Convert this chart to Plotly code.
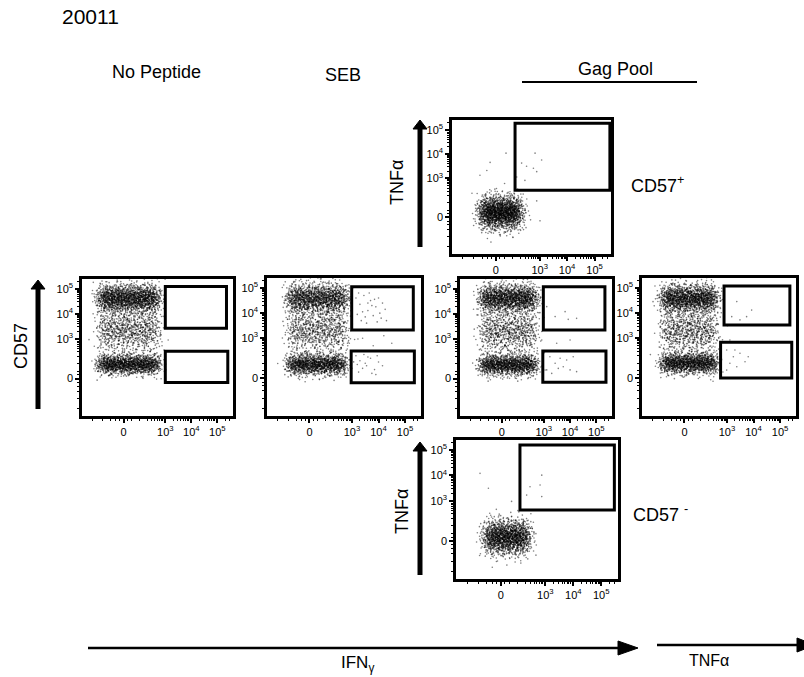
import numpy as np
import plotly.graph_objects as go

FIG_W, FIG_H = 804, 677
FONT = "Liberation Sans, Arial, sans-serif"
TICK_FONT = "Liberation Sans Narrow, Arial Narrow, Liberation Sans, Arial, sans-serif"

# labelled positions on the biexponential (logicle-style) display scale
MAJOR_TICKS = [1.4, 3.0, 4.0, 5.0]
MAJOR_LABELS = ["0", "10<sup>3</sup>", "10<sup>4</sup>", "10<sup>5</sup>"]
X_RANGE = [-0.2, 5.6]
Y_RANGE = [-0.1, 5.4]

COLUMN_TITLES = ["No Peptide", "SEB", "Gag Pool"]

# cell populations per plot: (x_lo, x_hi, y_centre, y_spread, events)
no_peptide_pops = [(0.5, 2.7, 4.62, 0.28, 1800), (0.5, 2.7, 3.35, 0.45, 900), (0.5, 2.7, 1.97, 0.2, 1500)]
seb_pops = [(0.65, 2.75, 4.58, 0.3, 1500), (0.65, 2.75, 3.3, 0.45, 800), (0.65, 2.7, 1.95, 0.21, 1400)]
gag_ifng_pops = [(0.65, 2.65, 4.62, 0.28, 1600), (0.65, 2.65, 3.3, 0.45, 800), (0.65, 2.65, 1.95, 0.21, 1400)]
gag_tnfa_pops = [(0.6, 2.55, 4.58, 0.28, 1600), (0.6, 2.55, 3.3, 0.45, 800), (0.6, 2.55, 2.0, 0.21, 1400)]
cd57_pos_pops = [(0.9, 2.25, 1.6, 0.34, 1900)]
cd57_neg_pops = [(0.9, 2.35, 1.55, 0.34, 1700)]

# sparse events outside the main clouds
no_peptide_rare_x = [3.11, 2.92, 2.95]
no_peptide_rare_y = [2.95, 3.9, 2.55]
seb_rare_x = [3.15, 3.3, 3.45, 3.6, 3.7, 3.8, 3.9, 4.0, 4.1, 4.25, 3.2, 3.35, 3.55, 3.65, 3.75, 3.95,
              4.15, 3.4, 3.85, 3.25, 3.5, 4.05, 3.6, 4.3,
              3.15, 3.3, 3.45, 3.55, 3.7, 3.85, 4.0, 3.25, 3.4, 3.6, 3.75, 3.95, 4.15, 3.5, 3.2, 3.9,
              2.9, 3.1, 3.4, 3.8, 4.2, 4.5, 2.95, 2.85, 2.9, 2.95, 3.0, 2.9]
seb_rare_y = [4.6, 4.35, 4.7, 4.1, 4.5, 3.9, 4.25, 4.6, 3.8, 4.15, 3.95, 3.7, 3.6, 4.8, 4.3, 3.65,
              4.4, 4.05, 4.55, 4.8, 3.85, 4.0, 4.4, 3.7,
              2.3, 2.1, 2.35, 1.9, 2.2, 1.75, 2.05, 1.65, 1.8, 2.25, 1.6, 2.3, 1.9, 2.0, 1.95, 1.55,
              2.8, 2.95, 3.0, 2.7, 3.1, 2.8, 3.3, 4.0, 4.6, 2.1, 1.8, 5.0]
gag_ifng_rare_x = [3.43, 3.81, 4.25, 3.93, 3.11, 2.92, 3.49, 4.0, 2.73, 3.23, 3.43, 3.62, 3.74, 3.87,
                   4.0, 3.11, 3.30, 4.12, 4.25, 3.55]
gag_ifng_rare_y = [3.89, 4.09, 3.82, 3.78, 4.29, 2.95, 2.82, 2.95, 2.42, 2.28, 2.02, 2.22, 1.88, 2.15,
                   1.75, 1.75, 1.61, 2.28, 1.68, 1.81]
gag_tnfa_rare_x = [3.37, 3.18, 3.74, 3.93, 3.49, 2.99, 3.24, 3.11, 3.49, 3.68, 3.37, 2.99, 3.80, 3.30,
                   3.11, 2.74]
gag_tnfa_rare_y = [4.46, 3.86, 3.86, 4.12, 3.73, 2.53, 2.26, 2.0, 2.40, 2.06, 1.86, 1.73, 2.26, 2.53,
                   2.93, 3.06]
cd57_pos_rare_x = [1.77, 1.19, 2.34, 2.52, 2.83, 3.07, 2.89, 2.77, 0.82, 1.07, 2.16, 2.46, 3.01, 2.89]
cd57_pos_rare_y = [4.04, 3.66, 3.63, 3.50, 4.04, 3.76, 3.28, 3.42, 3.13, 3.33, 3.06, 2.92, 1.26, 2.08]
cd57_neg_rare_x = [2.33, 2.45, 2.81, 2.87, 2.87, 1.79, 0.66, 0.96]
cd57_neg_rare_y = [3.22, 3.55, 3.62, 4.01, 3.16, 2.97, 4.08, 3.49]

# gates: (x0, x1, y0, y1) in display units
no_peptide_gates = [(3.0, 5.35, 3.42, 5.1), (3.0, 5.4, 1.24, 2.5)]
seb_gates = [(2.99, 5.31, 3.33, 5.05), (2.97, 5.35, 1.23, 2.49)]
gag_ifng_gates = [(2.98, 5.33, 3.35, 5.09), (2.96, 5.37, 1.25, 2.51)]
gag_tnfa_gates = [(2.89, 5.37, 3.53, 5.08), (2.76, 5.44, 1.41, 2.84)]
cd57_pos_gates = [(2.10, 5.56, 2.52, 5.27)]
cd57_neg_gates = [(2.09, 5.47, 2.63, 5.20)]


def spread(n, start, base):
    """Van der Corput sequence in the given base (deterministic, evenly filling)."""
    idx = np.arange(start, start + n)
    out = np.zeros(n)
    f = 1.0
    while idx.any():
        f /= base
        out += f * (idx % base)
        idx //= base
    return out


def population_events(pops, start):
    xs, ys = [], []
    for x_lo, x_hi, y_c, y_sd, n in pops:
        u = spread(n, start, 2)
        a = spread(n, start, 3)
        b = spread(n, start, 5)
        r = np.sqrt(-2.0 * np.log(a))
        z1 = r * np.cos(2 * np.pi * b)
        z2 = r * np.sin(2 * np.pi * b)
        xs.append(x_lo + (x_hi - x_lo) * u + 0.16 * z1)
        ys.append(y_c + y_sd * z2)
        start += n + 37
    return np.concatenate(xs), np.concatenate(ys), start


# frames of the six plots in pixels: (left, right, top, bottom)
panels = [
    dict(frame=(82, 233, 279, 416), pops=no_peptide_pops, rx=no_peptide_rare_x, ry=no_peptide_rare_y, gates=no_peptide_gates),
    dict(frame=(267, 421, 278, 416), pops=seb_pops, rx=seb_rare_x, ry=seb_rare_y, gates=seb_gates),
    dict(frame=(460, 612, 279, 416), pops=gag_ifng_pops, rx=gag_ifng_rare_x, ry=gag_ifng_rare_y, gates=gag_ifng_gates),
    dict(frame=(642, 796, 278, 416), pops=gag_tnfa_pops, rx=gag_tnfa_rare_x, ry=gag_tnfa_rare_y, gates=gag_tnfa_gates),
    dict(frame=(452, 611, 120, 254), pops=cd57_pos_pops, rx=cd57_pos_rare_x, ry=cd57_pos_rare_y, gates=cd57_pos_gates),
    dict(frame=(456, 618, 440, 579), pops=cd57_neg_pops, rx=cd57_neg_rare_x, ry=cd57_neg_rare_y, gates=cd57_neg_gates),
]

# minor ticks: log subdivisions of each decade plus the compressed linear region round zero
minor_ticks = [0.2, 0.6, 0.9, 1.1, 1.25, 1.55, 1.7, 2.0]
for k in (2, 3, 4, 5):
    minor_ticks += [k + np.log10(m) for m in range(2, 10) if k > 2 or m > 1]

fig = go.Figure()
layout = dict(
    width=FIG_W, height=FIG_H, margin=dict(l=0, r=0, t=0, b=0),
    paper_bgcolor="white", plot_bgcolor="white", showlegend=False,
    font=dict(family=FONT, color="black"),
)
shapes = []
start = 1
for i, p in enumerate(panels, start=1):
    L, R, T, B = p["frame"]
    xs, ys, start = population_events(p["pops"], start)
    xs = np.concatenate([xs, p["rx"]])
    ys = np.concatenate([ys, p["ry"]])
    sfx = "" if i == 1 else str(i)
    fig.add_trace(go.Scatter(
        x=xs, y=ys, mode="markers", xaxis="x" + sfx, yaxis="y" + sfx,
        marker=dict(size=1.6, color="black", opacity=0.5, line=dict(width=0)),
        hoverinfo="skip",
    ))
    axis_common = dict(
        showline=True, mirror=True, linecolor="black", linewidth=2.5,
        showgrid=False, zeroline=False, ticks="outside", ticklen=4, tickwidth=1.6,
        tickcolor="black", tickmode="array", tickvals=MAJOR_TICKS, ticktext=MAJOR_LABELS,
        tickfont=dict(family=TICK_FONT, size=11, color="black"),
        minor=dict(tickmode="array", tickvals=minor_ticks, ticks="outside", ticklen=2.5,
                   tickwidth=1, tickcolor="black"),
        fixedrange=True,
    )
    layout["xaxis" + sfx] = dict(axis_common, range=X_RANGE, domain=[L / FIG_W, R / FIG_W],
                                 anchor="y" + sfx)
    layout["yaxis" + sfx] = dict(axis_common, range=Y_RANGE,
                                 domain=[1 - B / FIG_H, 1 - T / FIG_H], anchor="x" + sfx)
    for x0, x1, y0, y1 in p["gates"]:
        shapes.append(dict(type="rect", xref="x" + sfx, yref="y" + sfx, x0=x0, x1=x1, y0=y0, y1=y1,
                           line=dict(color="black", width=3), fillcolor="rgba(0,0,0,0)"))


def px(x):
    return x / FIG_W


def py(y):
    return 1 - y / FIG_H


def v_arrow(x, tip, bottom, shaft=5, head_w=7, head_h=9):
    shapes.append(dict(type="line", xref="paper", yref="paper", x0=px(x), x1=px(x),
                       y0=py(bottom), y1=py(tip + head_h - 1), line=dict(color="black", width=shaft)))
    shapes.append(dict(type="path", xref="paper", yref="paper",
                       path=f"M {px(x - head_w)},{py(tip + head_h)} L {px(x + head_w)},{py(tip + head_h)} L {px(x)},{py(tip)} Z",
                       fillcolor="black", line=dict(color="black", width=1)))


def h_arrow(y, left, tip, shaft=2.5, head_l=20, head_h=7):
    shapes.append(dict(type="line", xref="paper", yref="paper", x0=px(left), x1=px(tip - head_l + 1),
                       y0=py(y), y1=py(y), line=dict(color="black", width=shaft)))
    shapes.append(dict(type="path", xref="paper", yref="paper",
                       path=f"M {px(tip - head_l)},{py(y - head_h)} L {px(tip - head_l)},{py(y + head_h)} L {px(tip)},{py(y)} Z",
                       fillcolor="black", line=dict(color="black", width=1)))


v_arrow(38, 280, 409)
v_arrow(420, 120, 247)
v_arrow(420, 442, 575)
h_arrow(648, 88, 638)
h_arrow(645, 657, 815, head_l=18)
shapes.append(dict(type="line", xref="paper", yref="paper", x0=px(522), x1=px(697), y0=py(82), y1=py(82),
                   line=dict(color="black", width=2)))

annotations = []


def label(text, x, y, size=18, angle=0, xanchor="center"):
    annotations.append(dict(text=text, x=px(x), y=py(y), xref="paper", yref="paper", showarrow=False,
                            xanchor=xanchor, yanchor="middle", textangle=angle,
                            font=dict(family=FONT, size=size, color="black")))


label("20011", 90, 17, size=21)
label(COLUMN_TITLES[0], 156, 72)
label(COLUMN_TITLES[1], 343, 75)
label(COLUMN_TITLES[2], 615, 69)
label("CD57<sup>+</sup>", 629, 184, xanchor="left")
label("CD57 <sup>-</sup>", 631, 513, xanchor="left")
label("TNFα", 397, 183, angle=-90)
label("TNFα", 402, 512, angle=-90)
label("CD57", 21, 346, angle=-90)
label("IFN<sub>γ</sub>", 357, 664, size=17)
label("TNFα", 709, 660, size=16)

layout["shapes"] = shapes
layout["annotations"] = annotations
fig.update_layout(**layout)
fig.write_html("out.html")
